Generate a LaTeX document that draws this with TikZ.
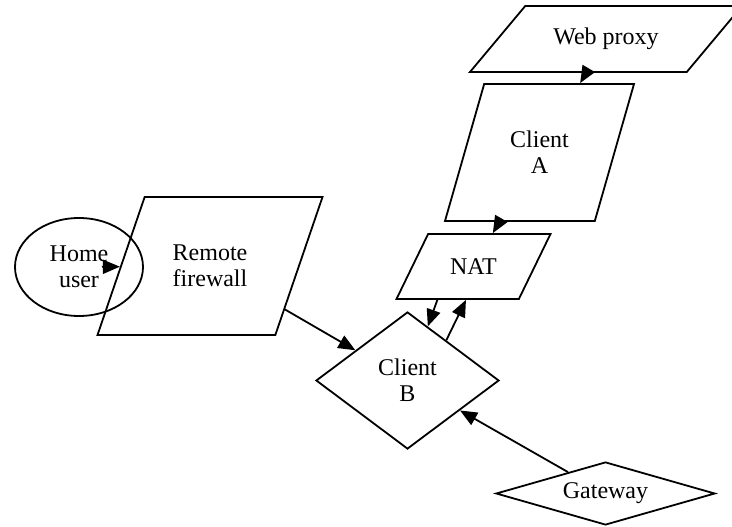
\documentclass[tikz,border=0pt]{standalone}
\usepackage{fontspec}
\setmainfont{Liberation Serif}
\usepackage{tikz}
\usetikzlibrary{shapes.geometric}
\usetikzlibrary{arrows.meta}
\usetikzlibrary{calc}
\tikzset{
  every node/.style={font=\fontsize{24}{26}\selectfont},
  para/.style={draw,trapezium,trapezium stretches body,inner xsep=0pt,align=center},
  dia/.style={draw,diamond,inner sep=0pt,align=center},
}

\begin{document}
\begin{tikzpicture}[x=1pt,y=-1pt,line width=1.8pt,>={Triangle[length=17pt,width=14pt]}]
      \clip (0,0) rectangle (732,527);
      \node[para,trapezium left angle=50,trapezium right angle=130,inner ysep=22pt,minimum width=272pt,minimum height=66pt] (webproxy) at (606,39) {Web proxy};
      \node[para,trapezium left angle=74,trapezium right angle=106,inner ysep=47pt,minimum width=189pt,minimum height=137pt] (clientA) at (539.5,152.5) {Client\\A};
      \node[para,trapezium left angle=64,trapezium right angle=116,inner ysep=24.5pt,minimum width=154pt,minimum height=65pt] (nat) at (473.5,266.5) {NAT};
      \node[para,trapezium left angle=71,trapezium right angle=109,inner ysep=47.5pt,minimum width=225pt,minimum height=138pt] (firewall) at (210,266) {Remote\\firewall};
      \node[draw,ellipse,inner sep=0pt,minimum width=128pt,minimum height=98pt,align=center] (home) at (79,267) {Home\\user};
      \node[dia,aspect=1.33,minimum width=183pt,minimum height=137pt] (clientB) at (407.5,380.5) {Client\\B};
      \node[dia,aspect=3.5,minimum width=219pt,minimum height=63pt] (gateway) at (605.5,493.5) {Gateway};

      \path[->] (webproxy) edge (clientA);
      \path[->] (clientA) edge (nat);
      \path[->] (home.center) edge[shorten <=23pt] (firewall);
      \path[->] (firewall) edge (clientB);
      \path[->] (gateway) edge (clientB);
      \path[->] ($(nat.bottom left corner)!0.34!(nat.bottom right corner)$) edge ($(clientB.north)!0.22!(clientB.east)$);
      \path[->] ($(clientB.north)!0.42!(clientB.east)$) edge ($(nat.bottom left corner)!0.57!(nat.bottom right corner)$);
\end{tikzpicture}
\end{document}
